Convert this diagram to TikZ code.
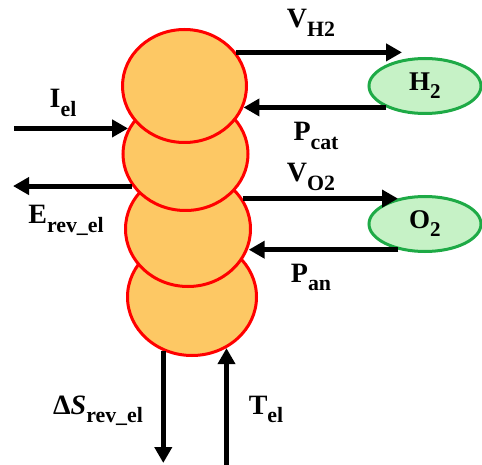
\documentclass[tikz,border=0pt]{standalone}
\usepackage{fontspec}
\setmainfont{Liberation Serif}
\usetikzlibrary{arrows.meta,shapes.geometric}
\definecolor{cellfill}{RGB}{253,200,100}
\definecolor{cellline}{RGB}{255,0,0}
\definecolor{tankfill}{RGB}{198,242,198}
\definecolor{tankline}{RGB}{30,170,70}
\newcommand{\lblsub}[2]{#1\raisebox{-.3em}{\fontsize{\the\dimexpr.78em\relax}{0pt}\selectfont #2}}

\begin{document}
\begin{tikzpicture}[x=1pt,y=-1pt,
  cell/.style={ellipse,draw=cellline,fill=cellfill,line width=3pt,inner sep=0pt,minimum width=124pt,minimum height=113pt},
  tank/.style={ellipse,draw=tankline,fill=tankfill,line width=3pt,inner sep=0pt,minimum width=112pt,minimum height=55pt,font=\fontsize{27}{27}\selectfont\bfseries},
  flow/.style={line width=5pt,-{Triangle[length=16pt,width=17pt]}},
  lbl/.style={anchor=base,inner sep=0pt,font=\fontsize{28}{28}\selectfont\bfseries}]
\useasboundingbox (0,0) rectangle (482,465);
% stack of cells, bottom one first
\node[cell,minimum width=129pt,minimum height=117pt] (c4) at (192,297) {};
\node[cell,minimum width=125pt,minimum height=115pt] (c3) at (188,229) {};
\node[cell,minimum width=125pt] (c2) at (185.5,154) {};
\node[cell] (c1) at (184.5,86) {};
% gas tanks
\node[tank] (h2) at (425,86) {\lblsub{H}{2}};
\node[tank] (o2) at (425,224) {\lblsub{O}{2}};
% free ends
\coordinate (vh2tip) at (402,52);
\coordinate (vo2tip) at (398,199);
\coordinate (ielS) at (14,128);
\coordinate (erevE) at (13,186);
\coordinate (dsE) at (163,463);
\coordinate (telS) at (226,465);
% flows
\draw[flow] (c1.33) -- (c1.33 -| vh2tip);
\draw[flow] (h2.209) -- (h2.209 -| c1.-20);
\draw[flow] (c2.156 -| ielS) -- (c2.156);
\draw[flow] (c2.211) -- (c2.211 -| erevE);
\draw[flow] (c3.29) -- (c3.29 -| vo2tip);
\draw[flow] (o2.224) -- (o2.224 -| c3.-17);
\draw[flow] (c4.242) -- (c4.242 |- dsE);
\draw[flow] (c4.-56 |- telS) -- (c4.-56);
% labels
\node[lbl] (lvh2) at (311,28) {\lblsub{V}{H2}};
\node[lbl] (lpcat) at (316,141) {\lblsub{P}{cat}};
\node[lbl] (liel) at (63,108) {\lblsub{I}{el}};
\node[lbl] (lvo2) at (311,182) {\lblsub{V}{O2}};
\node[lbl] (lerev) at (66,224) {\lblsub{E}{rev\_el}};
\node[lbl] (lpan) at (311,282) {\lblsub{P}{an}};
\node[lbl] (lds) at (98,414) {\lblsub{Δ\textit{S}}{rev\_el}};
\node[lbl] (ltel) at (266,414) {\lblsub{T}{el}};
\end{tikzpicture}
\end{document}
